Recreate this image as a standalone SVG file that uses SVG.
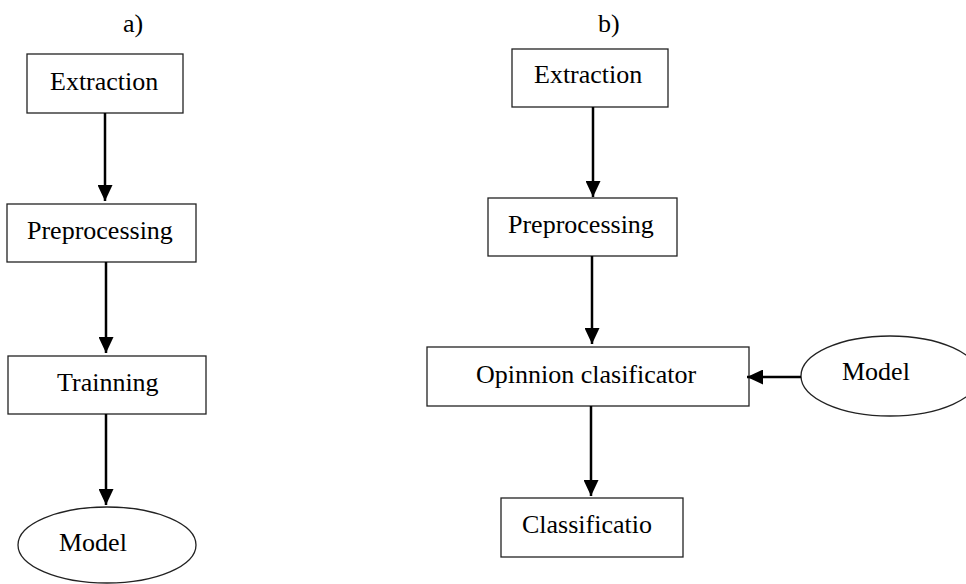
<svg xmlns="http://www.w3.org/2000/svg" width="966" height="584" viewBox="0 0 966 584">
<style>
.box{fill:#fff;stroke:#222;stroke-width:1.3}
.lbl{font-family:"Liberation Serif","Times New Roman",serif;font-size:26px;fill:#000}
.conn{stroke:#000;stroke-width:2.5;fill:none}
</style>
<defs>
<marker id="ah" viewBox="0 0 16 15" refX="16" refY="7.5" markerWidth="16" markerHeight="15" markerUnits="userSpaceOnUse" orient="auto">
<path d="M0,0 L16,7.5 L0,15 z" fill="#000"/>
</marker>
</defs>
<rect width="966" height="584" fill="#fff"/>
<text class="lbl" x="123" y="32">a)</text>
<text class="lbl" x="598" y="32">b)</text>
<g id="a-extraction"><rect class="box" x="27" y="54" width="156" height="59"/><text class="lbl" x="50" y="90">Extraction</text></g>
<g id="a-preprocessing"><rect class="box" x="7" y="204" width="189" height="58"/><text class="lbl" x="27" y="239">Preprocessing</text></g>
<g id="a-trainning"><rect class="box" x="8" y="356" width="198" height="58"/><text class="lbl" x="57" y="391">Trainning</text></g>
<g id="a-model"><ellipse class="box" cx="107" cy="545" rx="89" ry="38"/><text class="lbl" x="59" y="551">Model</text></g>
<g id="b-extraction"><rect class="box" x="512" y="49" width="156" height="58"/><text class="lbl" x="534" y="83">Extraction</text></g>
<g id="b-preprocessing"><rect class="box" x="488" y="198" width="189" height="58"/><text class="lbl" x="508" y="233">Preprocessing</text></g>
<g id="b-opinnion"><rect class="box" x="427" y="347" width="322" height="59"/><text class="lbl" x="476" y="383">Opinnion clasificator</text></g>
<g id="b-classificatio"><rect class="box" x="501" y="498" width="182" height="59"/><text class="lbl" x="522" y="533">Classificatio</text></g>
<g id="b-model"><ellipse class="box" cx="890" cy="376" rx="89" ry="40"/><text class="lbl" x="842" y="380">Model</text></g>
<g id="connectors">
<line class="conn" x1="105" y1="113" x2="105" y2="201" marker-end="url(#ah)"/>
<line class="conn" x1="106" y1="262" x2="106" y2="353" marker-end="url(#ah)"/>
<line class="conn" x1="106" y1="414" x2="106" y2="505" marker-end="url(#ah)"/>
<line class="conn" x1="593" y1="107" x2="593" y2="197" marker-end="url(#ah)"/>
<line class="conn" x1="592" y1="256" x2="592" y2="344" marker-end="url(#ah)"/>
<line class="conn" x1="591" y1="406" x2="591" y2="496" marker-end="url(#ah)"/>
<line class="conn" x1="801" y1="377" x2="747" y2="377" marker-end="url(#ah)"/>
</g>
</svg>
